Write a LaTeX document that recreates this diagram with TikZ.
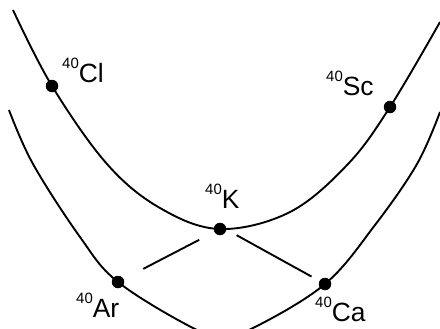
\documentclass[tikz,border=0pt]{standalone}
\usepackage{fontspec}
\setmainfont{Liberation Sans}
\newcommand{\isotope}[2]{\raisebox{14bp}{\fontsize{15}{15}\selectfont #1}#2}
\begin{document}
\begin{tikzpicture}[x=1bp,y=-1bp,
  dot/.style={circle,fill=black,inner sep=0pt,minimum size=12.5bp},
  curve/.style={line width=1.9bp},
  decay/.style={line width=1.9bp},
  lab/.style={inner sep=0pt,font=\fontsize{26.5}{27}\selectfont}]
\useasboundingbox (0,0) rectangle (440,328);
% upper parabola
\draw[curve] plot[smooth,tension=0.6] coordinates {(13,10) (52,86) (107,164) (160,208) (220,229) (290,212) (348,164) (390,107) (440,22)};
% lower parabola
\draw[curve] plot[smooth,tension=0.6] coordinates {(9,110) (33,164) (80,237) (118,282) (193,328) (223,335) (253,328) (325,284) (375,225) (417,164) (440,112)};
\node[dot] (cl) at (52,86) {};
\node[dot] (sc) at (390,107) {};
\node[dot] (k) at (220,229) {};
\node[dot] (ar) at (118,282) {};
\node[dot] (ca) at (325,284) {};
\draw[decay,shorten <=17bp,shorten >=22bp] (k) -- (ar);
\draw[decay,shorten <=19bp,shorten >=9bp] ([yshift=3bp]k.center) -- (ca);
\node[lab,anchor=base west] (lcl) at (62,82) {\isotope{40}{Cl}};
\node[lab,anchor=base west] (lsc) at (326,95) {\isotope{40}{Sc}};
\node[lab,anchor=base west] (lk) at (205,208) {\isotope{40}{K}};
\node[lab,anchor=base west] (lar) at (76,317) {\isotope{40}{Ar}};
\node[lab,anchor=base west] (lca) at (315,321) {\isotope{40}{Ca}};
\end{tikzpicture}
\end{document}
